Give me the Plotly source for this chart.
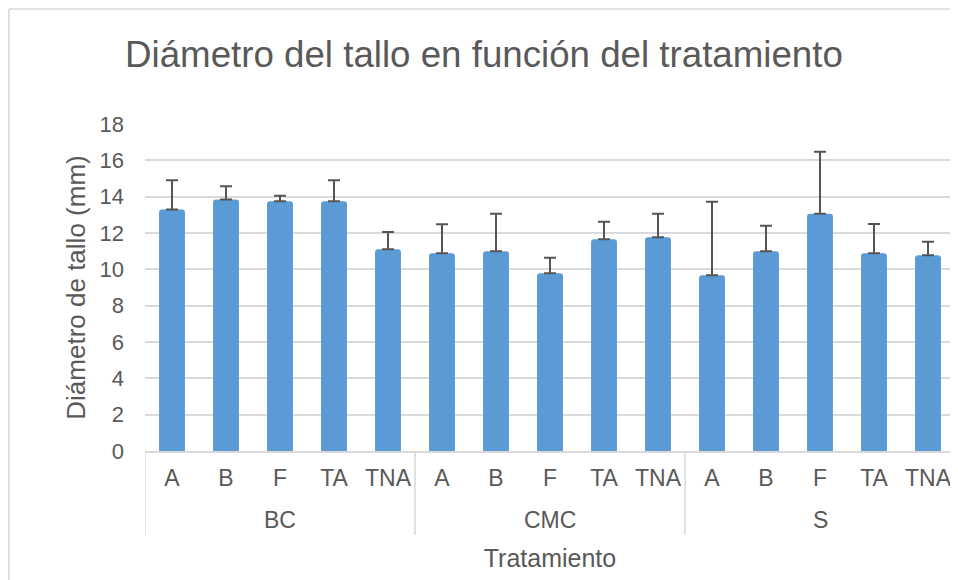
import plotly.graph_objects as go

group_names = ["BC", "CMC", "S"]
treatment_names = ["A", "B", "F", "TA", "TNA"]
groups = [g for g in group_names for _ in treatment_names]
treatments = treatment_names * 3
diametro = [13.3, 13.85, 13.75, 13.75, 11.1,
            10.88, 10.99, 9.78, 11.65, 11.76,
            9.67, 10.99, 13.06, 10.88, 10.77]
error = [1.6, 0.73, 0.3, 1.15, 0.95,
         1.6, 2.07, 0.86, 0.97, 1.3,
         4.05, 1.41, 3.41, 1.61, 0.75]

font = "Liberation Sans, Arial, sans-serif"
grey = "#595959"
light = "#D9D9D9"

xpos = list(range(len(diametro)))
n_sub = len(treatment_names)

fig = go.Figure(go.Bar(
    x=xpos,
    y=diametro,
    width=0.48,
    marker=dict(color="#5B9BD5", line=dict(width=0), cornerradius=3),
    error_y=dict(type="data", array=error, symmetric=False, arrayminus=[0] * len(error),
                 color="#555555", thickness=2, width=6),
    customdata=list(zip(groups, treatments)),
    hovertemplate="%{customdata[0]} %{customdata[1]}: %{y}<extra></extra>",
))

shapes = []
for k in range(len(group_names) + 1):
    xd = k * n_sub - 0.5
    shapes.append(dict(type="line", xref="x", yref="paper", x0=xd, x1=xd,
                       y0=0, y1=-0.257, line=dict(color=light, width=1.5)))
# outer chart frame (left and top edges visible)
shapes.append(dict(type="line", xref="paper", yref="paper",
                   x0=-0.168, x1=-0.168, y0=-0.6, y1=1.352,
                   line=dict(color=light, width=1.5), layer="below"))
shapes.append(dict(type="line", xref="paper", yref="paper",
                   x0=-0.168, x1=1.02, y0=1.352, y1=1.352,
                   line=dict(color=light, width=1.5), layer="below"))

annotations = []
for i, g in enumerate(group_names):
    annotations.append(dict(text=g, xref="x", yref="paper",
                            x=i * n_sub + (n_sub - 1) / 2, y=-0.2125,
                            xanchor="center", yanchor="middle", showarrow=False,
                            font=dict(family=font, size=23, color=grey)))

fig.update_layout(
    width=950, height=572,
    margin=dict(l=137, r=3, t=116, b=129),
    paper_bgcolor="white", plot_bgcolor="white",
    showlegend=False,
    title=dict(text="Diámetro del tallo en función del tratamiento",
               x=0.501, xanchor="center", y=0.9196, yanchor="middle",
               font=dict(family=font, size=36.7, color=grey)),
    font=dict(family=font, color=grey),
    xaxis=dict(
        range=[-0.5, len(diametro) - 0.5],
        tickmode="array", tickvals=xpos, ticktext=treatments,
        tickfont=dict(size=23, color=grey),
        ticklabelstandoff=6,
        showline=True, linecolor=light, linewidth=1.5,
        ticks="", showgrid=False, zeroline=False, automargin=False,
        title=dict(text="Tratamiento", font=dict(size=25, color=grey), standoff=59),
    ),
    yaxis=dict(
        range=[0, 18], dtick=2,
        tickfont=dict(size=22, color=grey),
        showgrid=True, gridcolor=light, gridwidth=1.5,
        zeroline=False, showline=False, ticks="",
        ticklabelstandoff=20, automargin=False,
        title=dict(text="Diámetro de tallo (mm)", font=dict(size=26, color=grey), standoff=6),
    ),
    shapes=shapes,
    annotations=annotations,
)

fig.write_html("out.html")
